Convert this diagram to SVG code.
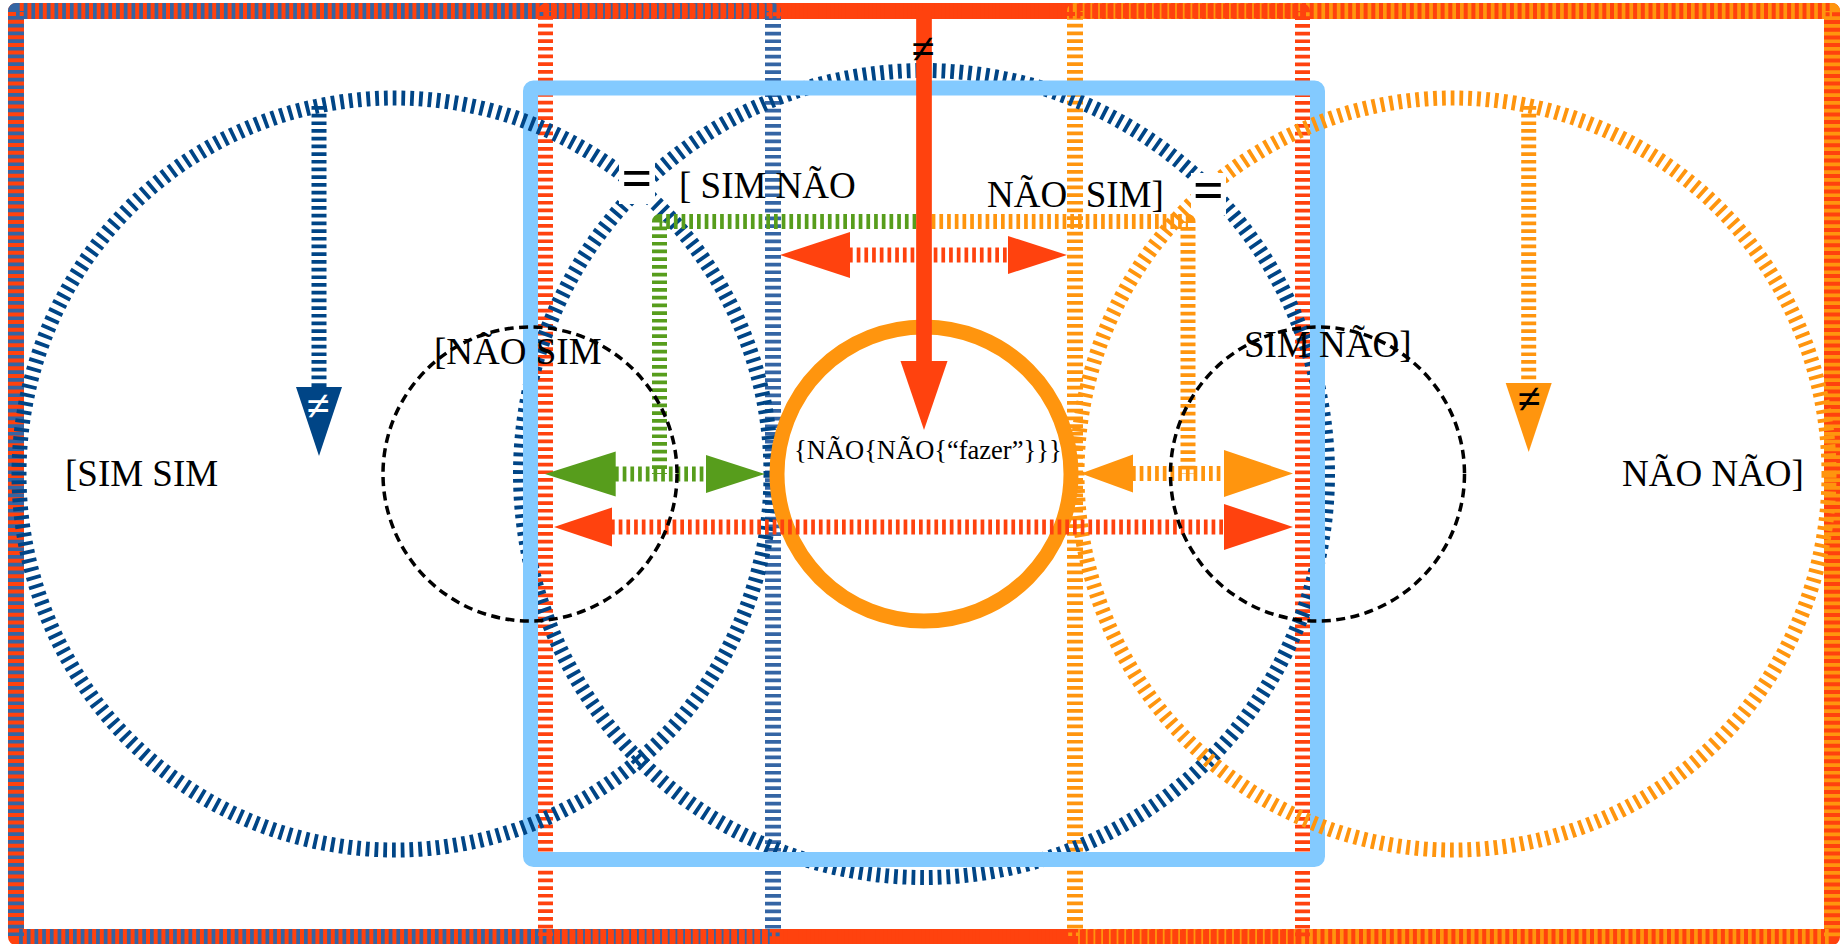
<svg xmlns="http://www.w3.org/2000/svg" width="1840" height="944" viewBox="0 0 1840 944">
<style>
.t{font-family:"Liberation Serif","Times New Roman",serif;fill:#000}
.lab{font-size:37px}
.sym{font-weight:bold}
.ds{fill:none;stroke-width:15;stroke-dasharray:3.7 4}
.df{fill:none;stroke-width:16;stroke-dasharray:3.7 4;stroke-linejoin:round}
.dc{fill:none;stroke-width:15;stroke-dasharray:3.8 5}
.red{stroke:#FF420E}
.org{stroke:#FF950E}
.grn{stroke:#579D1C}
.nav{stroke:#004586}
.stb{stroke:#3465A4}
.hr{fill:#FF420E}
.ho{fill:#FF950E}
.hg{fill:#579D1C}
.hb{fill:#004586}
.bk{fill:none;stroke:#000;stroke-width:3.5;stroke-dasharray:9 5.5}
.bg{fill:#fff}
</style>
<rect width="1840" height="944" fill="#fff"/>
<g id="frame">
<rect x="16" y="11" width="1816" height="926" fill="none" stroke="#FF420E" stroke-width="16" stroke-linejoin="round"/>
</g>
<g id="set-left"><rect x="16" y="11" width="757" height="926" class="df stb"/></g>
<g id="set-right"><rect x="1075" y="11" width="757" height="926" class="df org"/></g>
<g id="set-middle"><rect x="545.5" y="11" width="757" height="926" class="df red" style="stroke-width:15"/></g>
<g id="circle-middle"><circle cx="924" cy="474" r="403.5" class="dc nav"/></g>
<g id="box-lightblue"><rect x="530.5" y="88" width="787" height="771.5" rx="3" fill="none" stroke="#83CAFF" stroke-width="15"/></g>
<g id="circle-left"><circle cx="395" cy="474" r="376" class="dc nav"/></g>
<g id="circle-right"><circle cx="1453" cy="474" r="376" class="dc org"/></g>
<g id="core"><circle cx="924" cy="474" r="147" fill="none" stroke="#FF950E" stroke-width="15"/></g>
<g id="connectors">
<path d="M924 221.5H659.5V474" class="ds grn" stroke-linejoin="round"/>
<path d="M924 221.5H1188V474" class="ds org" stroke-linejoin="round"/>
<line x1="319" y1="106" x2="319" y2="388" class="ds nav"/>
<polygon points="296,387 342,387 319,456" class="hb"/>
<line x1="1528.7" y1="106" x2="1528.7" y2="384" class="ds org"/>
<polygon points="1505.7,383 1551.7,383 1528.7,452" class="ho"/>
<line x1="849" y1="255" x2="1009" y2="255" class="ds red"/>
<polygon points="780,255 850,232 850,278" class="hr"/>
<polygon points="1008,236 1008,274 1067,255" class="hr"/>
<line x1="615" y1="474" x2="707" y2="474" class="ds grn"/>
<polygon points="545,474 615.7,451.5 615.7,496.5" class="hg"/>
<polygon points="706,455 706,493 765,474" class="hg"/>
<line x1="1132" y1="473.5" x2="1225" y2="473.5" class="ds org"/>
<polygon points="1081,473.5 1133,454.5 1133,492.5" class="ho"/>
<polygon points="1224,450 1224,497 1293,473.5" class="ho"/>
<line x1="611" y1="527" x2="1225" y2="527" class="ds red"/>
<polygon points="554,527 612,507.5 612,546.5" class="hr"/>
<polygon points="1224,504 1224,550 1293,527" class="hr"/>
<line x1="924" y1="11" x2="924" y2="362" stroke="#FF420E" stroke-width="15.7"/>
<polygon points="900.5,361 947.5,361 924,430" class="hr"/>
</g>
<g id="circle-dashed-left"><circle cx="530" cy="474" r="147" class="bk"/></g>
<g id="circle-dashed-right"><circle cx="1317.5" cy="474" r="147" class="bk"/></g>
<g id="eq-left">
<rect x="619" y="162" width="36" height="42" class="bg"/>
<text class="t sym" x="637" y="196" font-size="54" text-anchor="middle">=</text>
</g>
<g id="eq-right">
<rect x="1191" y="173" width="35" height="42" class="bg"/>
<text class="t sym" x="1208.5" y="208" font-size="54" text-anchor="middle">=</text>
</g>
<g id="labels">
<text class="t lab" x="65" y="486">[SIM SIM</text>
<text class="t lab" x="1622" y="486">NÃO NÃO]</text>
<text class="t lab" x="434" y="364">[NÃO SIM</text>
<text class="t lab" x="1244" y="357">SIM NÃO]</text>
<text class="t lab" x="679" y="198">[ SIM NÃO</text>
<text class="t lab" x="987" y="207">NÃO&#160; SIM]</text>
<text class="t" x="794" y="459" font-size="26.5">{NÃO{NÃO{“fazer”}}}</text>
<text class="t sym" x="923" y="63" font-size="42" text-anchor="middle">≠</text>
<text class="t sym" x="318" y="420" font-size="42" text-anchor="middle" style="fill:#fff">≠</text>
<text class="t sym" x="1529" y="413" font-size="42" text-anchor="middle">≠</text>
</g>
</svg>
